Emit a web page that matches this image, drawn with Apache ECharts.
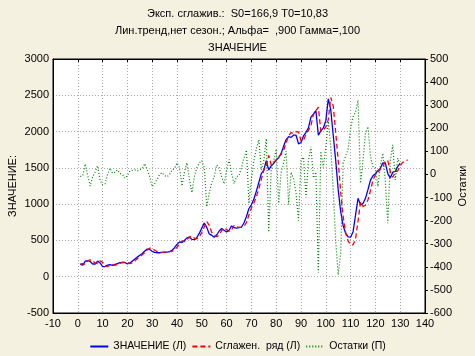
<!DOCTYPE html>
<html>
<head>
<meta charset="utf-8">
<script src="https://cdn.jsdelivr.net/npm/echarts@6/dist/echarts.min.js"></script>
<style>
html,body{margin:0;padding:0;background:#f5f1e1;}
#chart{width:475px;height:356px;}
</style>
</head>
<body>
<div id="chart"></div>
<script>
// ---- data ----
var titleLines = ['Эксп. сглажив.:  S0=166,9 T0=10,83', 'Лин.тренд,нет сезон.; Альфа=  ,900 Гамма=,100', 'ЗНАЧЕНИЕ'];
var seriesNames = ['ЗНАЧЕНИЕ (Л)', 'Сглажен.  ряд (Л)', 'Остатки (П)'];
var leftAxisName = 'ЗНАЧЕНИЕ:';
var rightAxisName = 'Остатки';

// observed values, t = 1..130
var znachenie = [170,160,215,220,210,175,175,215,190,140,
 140,160,165,155,170,180,195,198,195,175,
 190,215,245,270,295,320,355,380,375,350,
 335,330,330,335,340,340,345,365,400,445,
 480,470,500,535,545,515,510,540,600,670,
 740,680,590,570,545,575,630,665,640,615,
 640,700,675,670,675,685,740,830,940,990,
 1070,1180,1300,1420,1470,1600,1470,1530,1560,1610,
 1640,1700,1800,1890,1930,1920,1950,1950,1830,1850,
 1940,1990,2050,2200,2240,2290,1950,2010,2050,2150,
 2450,2300,1950,1600,1200,900,700,600,550,545,
 620,850,1080,990,1010,1080,1200,1330,1390,1420,
 1460,1490,1570,1570,1420,1360,1440,1450,1520,1560];

// smoothed series, t = 1..133
var smoothed = [178,181,170,223,232,222,186,181,220,198,
 146,140,159,166,157,171,182,198,202,199,
 179,191,217,249,277,304,330,367,394,391,
 364,345,337,336,340,345,345,350,370,406,
 453,492,485,513,549,561,531,522,549,611,
 685,761,707,610,579,550,576,633,673,652,
 624,645,706,687,679,682,692,747,851,949,
 1017,1100,1215,1342,1470,1528,1670,1539,1577,1607,
 1655,1686,1744,1845,1940,1985,1974,1998,1996,1873,
 1877,1964,2020,2082,2234,2286,2336,2001,2022,2063,
 2165,2470,2351,1988,1601,1167,829,604,491,440,
 440,523,768,1028,969,985,1058,1186,1329,1403,
 1439,1480,1512,1593,1599,1448,1371,1442,1459,1529,
 1575,1592,1610];

// residuals (right axis), t = 1..130
var ostatki = [-9,-5,45,-5,-50,-10,10,38,-25,-45,
 -40,0,27,5,10,20,5,0,-17,-5,
 15,18,20,15,20,25,47,20,-10,-53,
 -40,-20,0,8,-5,-10,0,19,25,50,
 30,-50,10,50,-20,-79,-10,30,50,60,
 30,-140,-80,-35,-10,41,30,-10,-41,20,
 65,5,-40,-10,-5,30,70,106,-125,-20,
 60,110,150,20,60,155,-250,20,60,110,
 -125,10,50,100,-130,10,-20,-80,-200,60,
 75,-100,60,120,-15,10,-425,100,30,120,
 230,120,-70,-290,-435,-340,50,80,110,200,
 250,270,322,-38,60,178,207,80,34,30,
 -53,40,92,-30,-211,60,128,-24,70,40];

var xMin = -10, xMax = 140, xStep = 10;
var yLeftMin = -500, yLeftMax = 3000, yLeftStep = 500;
var yRightMin = -600, yRightMax = 500, yRightStep = 100;

function pairs(arr){ return arr.map(function(v,i){ return [i+1, v]; }); }
function plain(v){ return String(v); }

var FONT = 'Liberation Sans, Arial, sans-serif';
var chart = echarts.init(document.getElementById('chart'));
var option = {
  backgroundColor: '#f5f1e1',
  animation: false,
  textStyle: {fontFamily: FONT},
  title: [
    {text: titleLines[0], left: 'center', top: 3, textStyle: {fontSize: 11, fontWeight: 'normal', color: '#000', fontFamily: FONT}},
    {text: titleLines[1], left: 'center', top: 20, textStyle: {fontSize: 11, fontWeight: 'normal', color: '#000', fontFamily: FONT}},
    {text: titleLines[2], left: 'center', top: 37, textStyle: {fontSize: 11, fontWeight: 'normal', color: '#000', fontFamily: FONT}}
  ],
  grid: {left: 53, right: 50, top: 59, bottom: 43, outerBoundsMode: 'none', containLabel: false,
         show: true, backgroundColor: '#ffffff', borderColor: '#000', borderWidth: 1},
  legend: {
    top: 336, left: 'center', itemWidth: 18, itemHeight: 10, itemGap: 5,
    textStyle: {fontSize: 10.5, color: '#000', fontFamily: FONT},
    itemStyle: {opacity: 0},
    data: seriesNames
  },
  xAxis: [
    {type: 'value', min: xMin, max: xMax, interval: xStep, position: 'bottom',
     axisLine: {show: true, onZero: false, lineStyle: {color: '#000'}}, axisTick: {show: false},
     axisLabel: {fontSize: 11, color: '#000', margin: 5, fontFamily: FONT, formatter: plain},
     splitLine: {show: true, lineStyle: {color: '#a8a8a8', type: [1, 2]}}},
    {type: 'value', min: xMin, max: xMax, interval: xStep, position: 'top',
     axisLine: {show: true, onZero: false, lineStyle: {color: '#000'}},
     axisTick: {show: true, inside: true, length: 3, lineStyle: {color: '#000'}},
     axisLabel: {show: false}, splitLine: {show: false}}
  ],
  yAxis: [
    {type: 'value', min: yLeftMin, max: yLeftMax, interval: yLeftStep, position: 'left',
     name: leftAxisName, nameLocation: 'middle', nameGap: 35, nameRotate: 90, nameMoveOverlap: false,
     nameTextStyle: {fontSize: 11, color: '#000', fontFamily: FONT},
     axisLine: {show: true, onZero: false, lineStyle: {color: '#000'}}, axisTick: {show: false},
     axisLabel: {fontSize: 11, color: '#000', margin: 4, fontFamily: FONT, formatter: plain},
     splitLine: {show: true, lineStyle: {color: '#a8a8a8', type: [1, 2]}}},
    {type: 'value', min: yRightMin, max: yRightMax, interval: yRightStep, position: 'right',
     name: rightAxisName, nameLocation: 'middle', nameGap: 32, nameRotate: 90, nameMoveOverlap: false,
     nameTextStyle: {fontSize: 11, color: '#000', fontFamily: FONT},
     axisLine: {show: true, onZero: false, lineStyle: {color: '#000'}},
     axisTick: {show: true, length: 3, lineStyle: {color: '#000'}},
     axisLabel: {fontSize: 11, color: '#000', margin: 5, fontFamily: FONT, formatter: plain},
     splitLine: {show: false}}
  ],
  series: [
    {name: seriesNames[0], type: 'line', xAxisIndex: 0, yAxisIndex: 0, data: pairs(znachenie),
     symbol: 'none', lineStyle: {color: '#0000ff', width: 1.3}, itemStyle: {color: '#0000ff'}, z: 3},
    {name: seriesNames[1], type: 'line', xAxisIndex: 0, yAxisIndex: 0, data: pairs(smoothed),
     symbol: 'none', lineStyle: {color: '#ff0000', width: 1.3, type: [5, 3]}, itemStyle: {color: '#ff0000'}, z: 4},
    {name: seriesNames[2], type: 'line', xAxisIndex: 0, yAxisIndex: 1, data: pairs(ostatki),
     symbol: 'none', lineStyle: {color: '#008000', width: 1.2, type: [1, 2]}, itemStyle: {color: '#008000'}, z: 5}
  ]
};
chart.setOption(option);
</script>
</body>
</html>
